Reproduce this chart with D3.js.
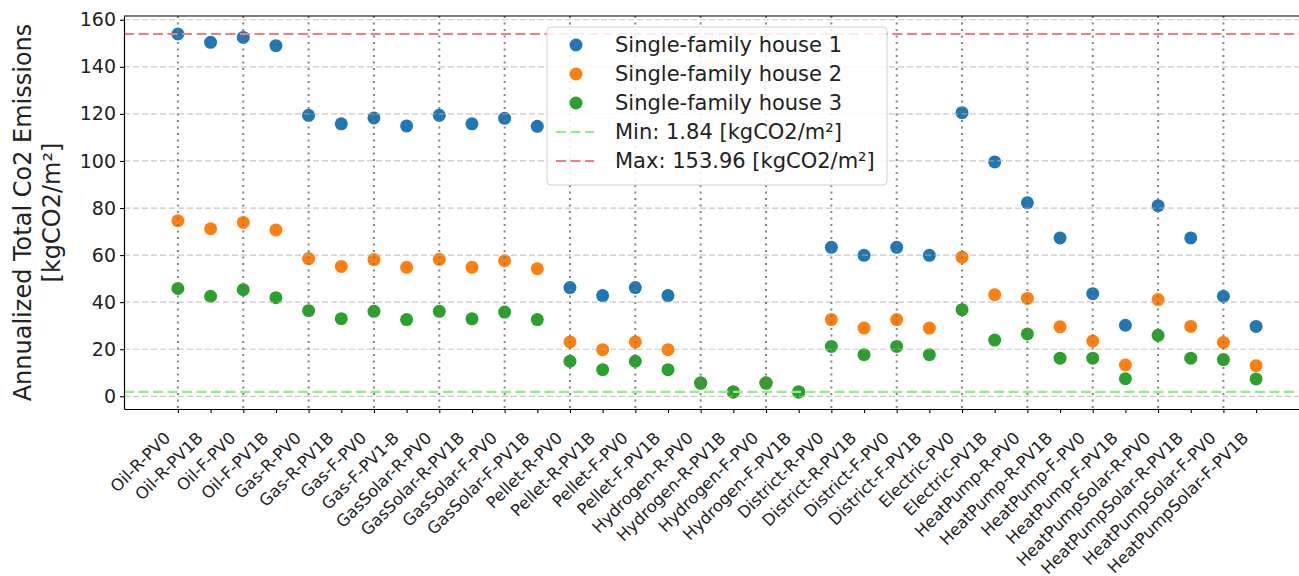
<!DOCTYPE html>
<html lang="en">
<head>
    <meta charset="UTF-8">
    <title>Annualized Total Co2 Emissions</title>
    <style>
        html,body{
            margin:0;
            height: 100%;
            overflow: hidden;
            background: #fff;
        }
        svg { display: block; }
        text { font-family: "DejaVu Sans", sans-serif; fill: #222; }
    </style>
</head>
<body>
    <svg id="svg"></svg>
    <script src="https://d3js.org/d3.v7.min.js"></script>
    <script>
        const categories = [
            'Oil-R-PV0', 'Oil-R-PV1B', 'Oil-F-PV0', 'Oil-F-PV1B',
            'Gas-R-PV0', 'Gas-R-PV1B', 'Gas-F-PV0', 'Gas-F-PV1-B',
            'GasSolar-R-PV0', 'GasSolar-R-PV1B', 'GasSolar-F-PV0', 'GasSolar-F-PV1B',
            'Pellet-R-PV0', 'Pellet-R-PV1B', 'Pellet-F-PV0', 'Pellet-F-PV1B',
            'Hydrogen-R-PV0', 'Hydrogen-R-PV1B', 'Hydrogen-F-PV0', 'Hydrogen-F-PV1B',
            'District-R-PV0', 'District-R-PV1B', 'District-F-PV0', 'District-F-PV1B',
            'Electric-PV0', 'Electric-PV1B',
            'HeatPump-R-PV0', 'HeatPump-R-PV1B', 'HeatPump-F-PV0', 'HeatPump-F-PV1B',
            'HeatPumpSolar-R-PV0', 'HeatPumpSolar-R-PV1B', 'HeatPumpSolar-F-PV0', 'HeatPumpSolar-F-PV1B'
        ];
        const house1 = [153.96, 150.4, 152.5, 149.0, 119.4, 115.8, 118.3, 114.9,
            119.4, 115.8, 118.1, 114.7, 46.2, 42.8, 46.2, 42.8,
            5.6, 1.84, 5.6, 1.84, 63.3, 59.9, 63.3, 59.9,
            120.5, 99.6, 82.2, 67.3, 43.6, 30.2, 81.0, 67.3, 42.5, 29.7];
        const house2 = [74.6, 71.2, 73.9, 70.7, 58.5, 55.2, 58.1, 54.8,
            58.2, 54.8, 57.6, 54.2, 23.1, 19.8, 23.1, 19.8,
            5.6, 1.84, 5.6, 1.84, 32.6, 29.0, 32.6, 29.0,
            59.1, 43.2, 41.6, 29.5, 23.5, 13.3, 41.1, 29.7, 22.9, 13.0];
        const house3 = [45.8, 42.5, 45.3, 41.9, 36.4, 33.0, 36.1, 32.6,
            36.1, 32.9, 35.8, 32.6, 14.9, 11.3, 14.9, 11.3,
            5.6, 1.84, 5.6, 1.84, 21.2, 17.7, 21.2, 17.7,
            36.8, 23.9, 26.5, 16.2, 16.2, 7.5, 25.9, 16.2, 15.6, 7.4];
        const seriesNames = ['Single-family house 1', 'Single-family house 2', 'Single-family house 3'];
        const yTicks = [0, 20, 40, 60, 80, 100, 120, 140, 160];
        const minValue = 1.84;
        const maxValue = 153.96;

        const colors = ['#1f77b4', '#ff7f0e', '#2ca02c'];
        const minColor = '#90ee90';
        const maxColor = '#f08080';

        const width = 1299, height = 576;
        const svg = d3.select('#svg').attr('width', width).attr('height', height);
        const margin = { top: 16, left: 124, right: -11, bottom: 167 };
        const innerWidth = width - margin.left - margin.right;
        const innerHeight = height - margin.top - margin.bottom;

        const xScale = d3.scaleLinear()
            .domain([-1.65, categories.length - 1 + 1.65])
            .range([0, innerWidth]);
        const yScale = d3.scaleLinear()
            .domain([-5.4, 161.6])
            .range([innerHeight, 0]);

        const g = svg.append('g')
            .attr('transform', `translate(${margin.left},${margin.top})`);

        // points
        const all = [house1, house2, house3];
        all.forEach((vals, s) => {
            g.append('g').selectAll('circle')
                .data(vals)
                .join('circle')
                .attr('cx', (d, i) => xScale(i))
                .attr('cy', d => yScale(d))
                .attr('r', 6.5)
                .attr('fill', colors[s]);
        });

        // grid (drawn above the points like in the original)
        g.append('g').selectAll('line')
            .data(yTicks)
            .join('line')
            .attr('x1', 0).attr('x2', innerWidth)
            .attr('y1', d => yScale(d)).attr('y2', d => yScale(d))
            .attr('stroke', '#b0b0b0').attr('stroke-opacity', 0.7)
            .attr('stroke-width', 1.2).attr('stroke-dasharray', '6,3');
        g.append('g').selectAll('line')
            .data(categories.map((c, i) => i).filter(i => i % 2 === 0))
            .join('line')
            .attr('x1', d => xScale(d)).attr('x2', d => xScale(d))
            .attr('y1', 0).attr('y2', innerHeight)
            .attr('stroke', '#777').attr('stroke-opacity', 0.9)
            .attr('stroke-width', 2).attr('stroke-dasharray', '2,4.5');

        // min / max reference lines
        [[minValue, minColor], [maxValue, maxColor]].forEach(([v, c]) => {
            g.append('line')
                .attr('x1', 0).attr('x2', innerWidth)
                .attr('y1', yScale(v)).attr('y2', yScale(v))
                .attr('stroke', c).attr('stroke-width', 2.2)
                .attr('stroke-dasharray', '10,4.5');
        });

        // axes
        const xAxis = d3.axisBottom(xScale)
            .tickValues(categories.map((c, i) => i))
            .tickFormat(i => categories[i])
            .tickSize(4).tickSizeOuter(0);
        const xg = g.append('g').attr('transform', `translate(0,${innerHeight})`).call(xAxis);
        xg.selectAll('text')
            .style('font-size', '16.5px')
            .attr('text-anchor', 'end')
            .attr('dy', null).attr('y', 0)
            .attr('transform', 'translate(-7,30) rotate(-45)');

        const yAxis = d3.axisLeft(yScale).tickValues(yTicks).tickSize(4).tickPadding(4).tickSizeOuter(0);
        const yg = g.append('g').call(yAxis);
        yg.selectAll('text').style('font-size', '19px');

        [xg, yg].forEach(a => {
            a.select('.domain').attr('stroke', '#000').attr('stroke-width', 1.2);
            a.selectAll('.tick line').attr('stroke', '#000').attr('stroke-width', 1.1);
            a.selectAll('.tick text').attr('fill', '#222');
        });
        // top spine
        g.append('line').attr('x1', 0).attr('x2', innerWidth).attr('y1', 0).attr('y2', 0)
            .attr('stroke', '#000').attr('stroke-width', 1.2);

        // y title
        const yt = svg.append('text')
            .attr('transform', `translate(0,${margin.top + innerHeight / 2}) rotate(-90)`)
            .attr('text-anchor', 'middle')
            .style('font-size', '24px');
        yt.append('tspan').attr('x', 0).attr('y', 31).text('Annualized Total Co2 Emissions');
        yt.append('tspan').attr('x', 0).attr('y', 60).text('[kgCO2/m²]');

        // legend
        const legendItems = [
            { label: seriesNames[0], color: colors[0], type: 'dot' },
            { label: seriesNames[1], color: colors[1], type: 'dot' },
            { label: seriesNames[2], color: colors[2], type: 'dot' },
            { label: `Min: ${minValue.toFixed(2)} [kgCO2/m²]`, color: minColor, type: 'line' },
            { label: `Max: ${maxValue.toFixed(2)} [kgCO2/m²]`, color: maxColor, type: 'line' }
        ];
        const lg = svg.append('g').attr('transform', 'translate(547,27)');
        lg.append('rect')
            .attr('width', 340).attr('height', 158)
            .attr('rx', 4)
            .attr('fill', '#fff').attr('fill-opacity', 0.85)
            .attr('stroke', '#d0d0d0').attr('stroke-width', 1);
        const rowY = d3.scaleLinear().domain([0, 4]).range([18, 134]);
        const rows = lg.selectAll('g.item').data(legendItems).join('g')
            .attr('class', 'item')
            .attr('transform', (d, i) => `translate(0,${rowY(i)})`);
        rows.filter(d => d.type === 'dot').append('circle')
            .attr('cx', 29).attr('cy', 0).attr('r', 6.5).attr('fill', d => d.color);
        rows.filter(d => d.type === 'line').append('line')
            .attr('x1', 9).attr('x2', 47).attr('y1', 0).attr('y2', 0)
            .attr('stroke', d => d.color).attr('stroke-width', 2.2)
            .attr('stroke-dasharray', '10,4.5');
        rows.append('text')
            .attr('x', 68).attr('y', 0).attr('dy', '0.35em')
            .style('font-size', '21px')
            .text(d => d.label);
    </script>
</body>
</html>
